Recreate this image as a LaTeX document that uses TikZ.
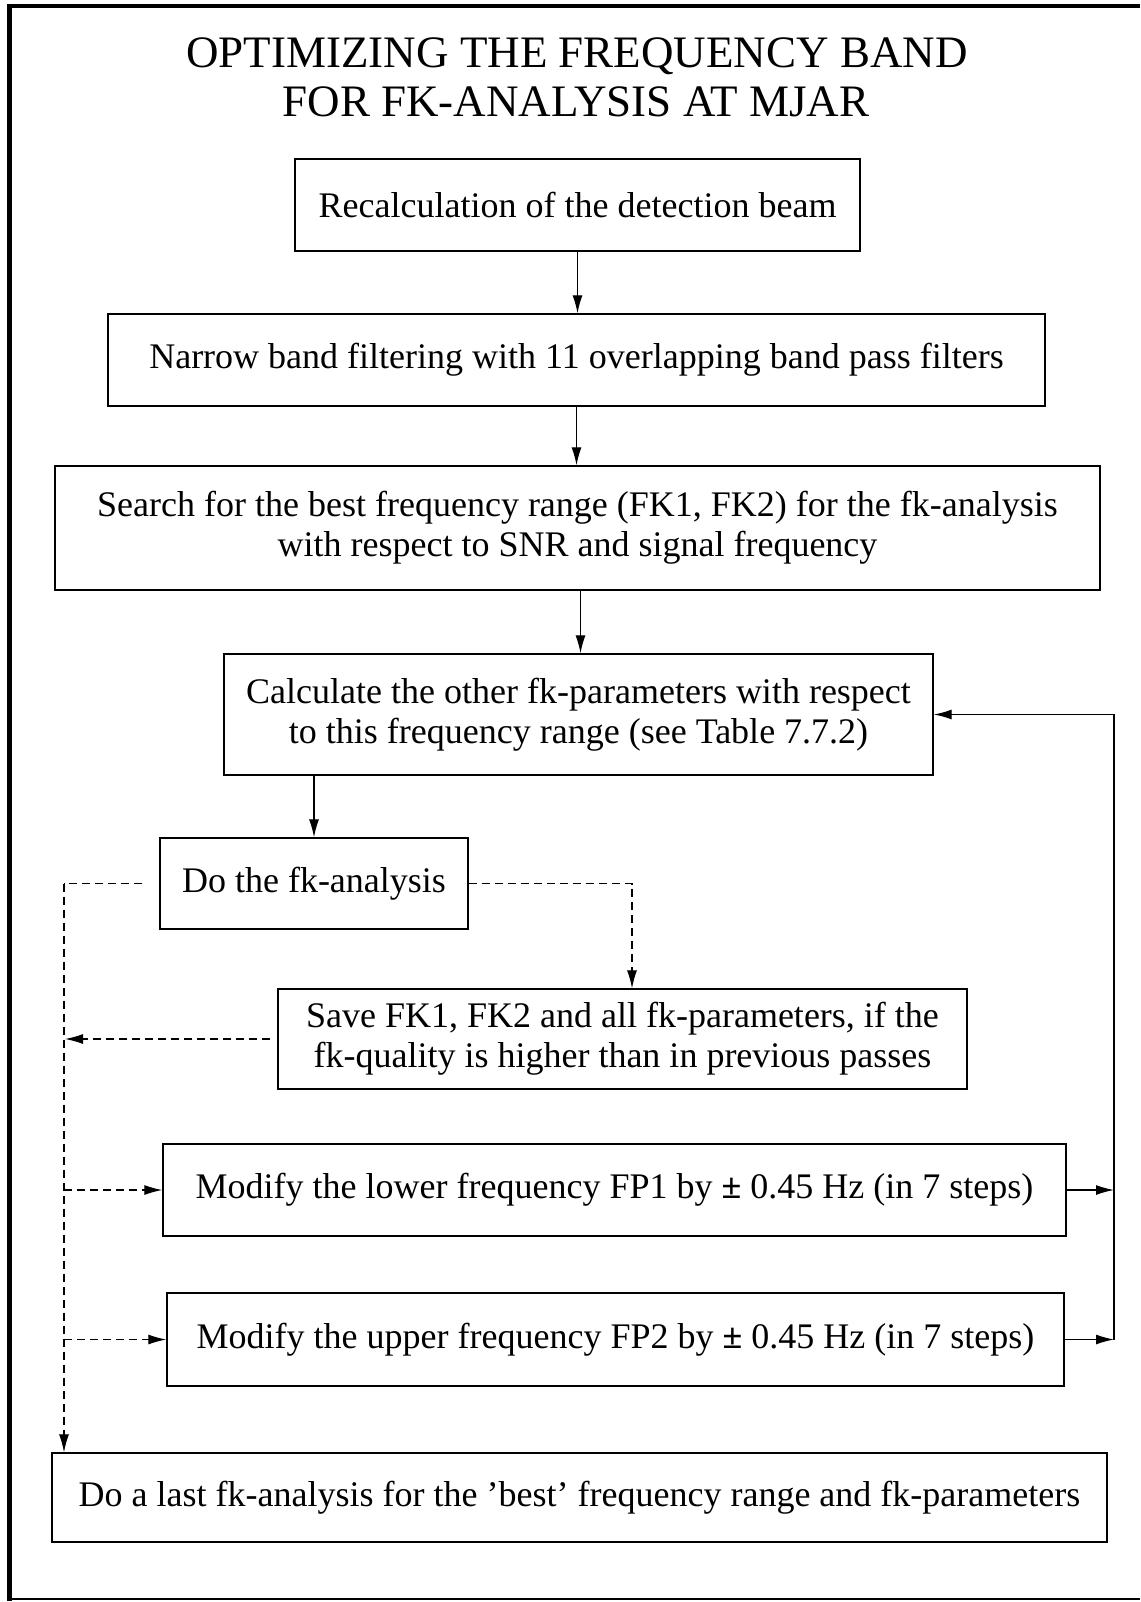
\documentclass[tikz,border=0pt]{standalone}
\usepackage{fontspec}
\setmainfont{Liberation Serif}
\usetikzlibrary{arrows.meta}
\begin{document}
\begin{tikzpicture}[x=1pt,y=-1pt,
  box/.style={draw, line width=1.4pt, align=center, inner sep=0pt, font=\fontsize{36}{40}\selectfont},
  titlestyle/.style={anchor=base, inner sep=0pt, font=\fontsize{45}{49}\selectfont},
  conn/.style={line width=1.3pt, -{Latex[length=18pt,width=10pt]}},
  dconn/.style={line width=1.2pt, dash pattern=on 8pt off 5pt, -{Latex[length=18pt,width=10pt]}},
  dline/.style={line width=1.2pt, dash pattern=on 8pt off 5pt}]
\useasboundingbox (0,0) rectangle (1140,1602);
\fill[white] (0,0) rectangle (1140,1602);
% frame
\draw[line width=5pt] (9,4) -- (9,1601);
\draw[line width=4pt] (7,6) -- (1140,6);
\draw[line width=2pt] (9,1599) -- (1140,1599);
% title
\node[titlestyle] (title1) at (577,68) {OPTIMIZING THE FREQUENCY BAND};
\node[titlestyle] (title2) at (576,117) {FOR FK-ANALYSIS AT MJAR};
% boxes
\node[box, minimum width=565pt, minimum height=92pt] (recalc) at (577.5,205) {Recalculation of the detection beam};
\node[box, minimum width=937pt, minimum height=92pt] (narrow) at (576.5,360) {Narrow band filtering with 11 overlapping band pass filters};
\node[box, minimum width=1045pt, minimum height=124pt] (search) at (577.5,528) {Search for the best frequency range (FK1, FK2) for the fk-analysis\\with respect to SNR and signal frequency};
\node[box, minimum width=709pt, minimum height=121pt] (calc) at (578.5,714.5) {Calculate the other fk-parameters with respect\\to this frequency range (see Table 7.7.2)};
\node[box, minimum width=308pt, minimum height=91pt] (dofk) at (314,883.5) {Do the fk-analysis};
\node[box, minimum width=689pt, minimum height=100pt] (save) at (622.5,1039) {Save FK1, FK2 and all fk-parameters, if the\\fk-quality is higher than in previous passes};
\node[box, minimum width=903pt, minimum height=92pt] (modlow) at (614.5,1190) {Modify the lower frequency FP1 by {\bfseries ±} 0.45 Hz (in 7 steps)};
\node[box, minimum width=897pt, minimum height=93pt] (modup) at (615.5,1339.5) {Modify the upper frequency FP2 by {\bfseries ±} 0.45 Hz (in 7 steps)};
\node[box, minimum width=1055pt, minimum height=89pt] (last) at (579.5,1497.5) {Do a last fk-analysis for the 'best' frequency range and fk-parameters};
% helper coordinates
\coordinate (lx) at (64,0);
\coordinate (rx) at (1114,0);
\coordinate (sx) at (632,0);
% main flow
\draw[conn] (recalc.south) -- (recalc.south |- narrow.north);
\draw[conn] (narrow.south) -- (narrow.south |- search.north);
\draw[conn] ([xshift=3pt]search.south) -- ([xshift=3pt]search.south |- calc.north);
\draw[conn] (dofk.north |- calc.south) -- (dofk.north);
% dashed flows
\draw[dconn] (dofk.east) -| (sx |- save.north);
\draw[dline] ([xshift=-17pt]dofk.west) -- (lx |- dofk.west);
\draw[dconn] (lx |- dofk.west) -- (lx |- last.north);
\draw[dconn] ([xshift=-7pt]save.west) -- ([xshift=1pt]lx |- save.west);
\draw[dconn] (lx |- modlow.west) -- (modlow.west);
\draw[dconn] (lx |- modup.west) -- (modup.west);
% feedback loop
\draw[conn] (modlow.east) -- (rx |- modlow.east);
\draw[conn] (modup.east) -- (rx |- modup.east);
\draw[conn] (rx |- modup.east) -- (rx |- calc.east) -- (calc.east);
\end{tikzpicture}
\end{document}
